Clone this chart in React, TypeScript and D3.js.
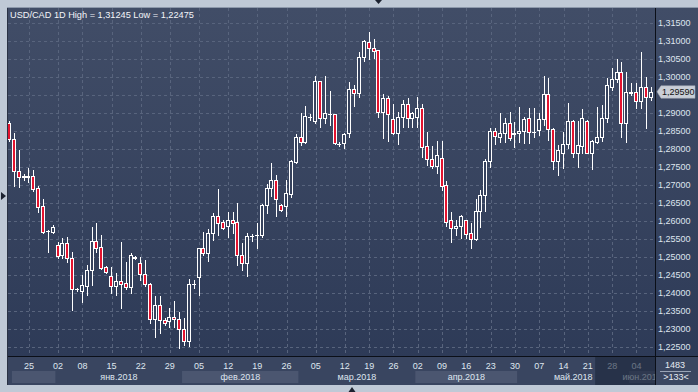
import * as d3 from "d3";

// USD/CAD daily candles, 133 bars visible
const opens = [
  1.2872, 1.2828, 1.274, 1.2725, 1.2723, 1.2725, 1.2692, 1.2642, 1.2572, 1.2569,
  1.2533, 1.2506, 1.2538, 1.2496, 1.241, 1.2406, 1.242, 1.2464, 1.2544, 1.2527,
  1.2471, 1.2447, 1.242, 1.2433, 1.2427, 1.2418, 1.2498, 1.2483, 1.2452, 1.2424,
  1.2327, 1.2367, 1.2325, 1.2323, 1.2333, 1.2328, 1.2299, 1.2268, 1.2424, 1.2445,
  1.2524, 1.2512, 1.2566, 1.2614, 1.2596, 1.2587, 1.2603, 1.2596, 1.2506, 1.2483,
  1.2558, 1.2561, 1.2561, 1.2644, 1.2691, 1.2714, 1.2644, 1.2642, 1.2675, 1.2765,
  1.2833, 1.282, 1.2888, 1.2879, 1.2989, 1.2887, 1.2896, 1.2896, 1.2814, 1.2816,
  1.2844, 1.2966, 1.2955, 1.3055, 1.3096, 1.308, 1.3075, 1.2904, 1.2941, 1.2883,
  1.2845, 1.2888, 1.2924, 1.2885, 1.289, 1.2913, 1.2808, 1.2772, 1.2753, 1.2774,
  1.2699, 1.2602, 1.258, 1.2587, 1.2602, 1.2566, 1.2549, 1.2628, 1.2672, 1.2767,
  1.285, 1.2834, 1.2844, 1.2871, 1.2844, 1.2844, 1.285, 1.2885, 1.2848, 1.2853,
  1.2883, 1.2953, 1.2855, 1.2767, 1.2788, 1.2813, 1.2879, 1.279, 1.2809, 1.2879,
  1.279, 1.282, 1.2833, 1.2885, 1.2973, 1.2994, 1.3015, 1.2873, 1.2957, 1.2958,
  1.2933, 1.2973, 1.2945,
];
const highs = [
  1.2878, 1.2844, 1.2797, 1.2731, 1.2747, 1.2742, 1.2697, 1.266, 1.2575, 1.2589,
  1.2543, 1.2554, 1.2556, 1.2515, 1.2414, 1.245, 1.2478, 1.2584, 1.2594, 1.2561,
  1.2475, 1.2473, 1.2455, 1.2543, 1.2487, 1.251, 1.2503, 1.2501, 1.2492, 1.2429,
  1.2392, 1.2392, 1.233, 1.2358, 1.2378, 1.2346, 1.233, 1.2438, 1.2436, 1.2525,
  1.2569, 1.2578, 1.2623, 1.269, 1.2603, 1.2625, 1.2626, 1.2649, 1.2538, 1.2566,
  1.2564, 1.2594, 1.2647, 1.2703, 1.276, 1.2728, 1.2647, 1.2714, 1.2769, 1.2842,
  1.2899, 1.2919, 1.2896, 1.3003, 1.299, 1.3003, 1.2961, 1.2897, 1.282, 1.2845,
  1.2987, 1.2978, 1.3069, 1.3103, 1.31245, 1.3106, 1.3076, 1.2953, 1.2947, 1.2925,
  1.2902, 1.2936, 1.2941, 1.2904, 1.2944, 1.2925, 1.2846, 1.2808, 1.2822, 1.2822,
  1.2711, 1.2624, 1.2603, 1.2617, 1.2604, 1.2594, 1.2661, 1.2686, 1.2772, 1.2859,
  1.2857, 1.2899, 1.2885, 1.2902, 1.2874, 1.2918, 1.289, 1.2913, 1.2913, 1.2899,
  1.3003, 1.2997, 1.2859, 1.2811, 1.2848, 1.2927, 1.2881, 1.2879, 1.2911, 1.2881,
  1.2825, 1.2916, 1.2922, 1.2997, 1.3024, 1.3049, 1.3043, 1.3015, 1.2983, 1.2983,
  1.3069, 1.3, 1.2971,
];
const lows = [
  1.2822, 1.2697, 1.2695, 1.2714, 1.2709, 1.2684, 1.2626, 1.2566, 1.2515, 1.2566,
  1.2496, 1.2496, 1.2487, 1.2353, 1.2406, 1.2376, 1.2394, 1.2422, 1.2515, 1.2467,
  1.2455, 1.2399, 1.2394, 1.2358, 1.2411, 1.2399, 1.2494, 1.2436, 1.242, 1.2316,
  1.2279, 1.229, 1.2311, 1.2306, 1.2306, 1.22475, 1.2256, 1.2253, 1.2413, 1.2394,
  1.2506, 1.249, 1.2547, 1.2561, 1.2578, 1.2555, 1.2566, 1.2478, 1.2464, 1.2447,
  1.2545, 1.2526, 1.2556, 1.2623, 1.267, 1.2614, 1.2628, 1.2614, 1.2668, 1.276,
  1.2811, 1.2816, 1.2881, 1.2871, 1.2862, 1.2871, 1.2867, 1.2814, 1.2808, 1.2804,
  1.2833, 1.2919, 1.2945, 1.3045, 1.3049, 1.3054, 1.289, 1.283, 1.2823, 1.2841,
  1.2814, 1.2862, 1.2862, 1.2862, 1.2862, 1.2777, 1.2756, 1.2746, 1.2733, 1.2686,
  1.2587, 1.2543, 1.2561, 1.2552, 1.2552, 1.2526, 1.2547, 1.2584, 1.2629, 1.2749,
  1.2813, 1.282, 1.282, 1.2825, 1.2806, 1.282, 1.2816, 1.2816, 1.2834, 1.2839,
  1.2867, 1.2825, 1.2744, 1.2728, 1.2746, 1.2802, 1.2777, 1.2749, 1.2788, 1.2788,
  1.2744, 1.2816, 1.2823, 1.2876, 1.2964, 1.2986, 1.2834, 1.282, 1.295, 1.2913,
  1.2913, 1.2858, 1.2936,
];
const closes = [
  1.2828, 1.274, 1.2723, 1.2722, 1.2724, 1.269, 1.264, 1.2569, 1.2571, 1.2584,
  1.2504, 1.2538, 1.2496, 1.241, 1.2411, 1.2422, 1.2464, 1.2544, 1.2526, 1.247,
  1.2459, 1.242, 1.2433, 1.2426, 1.2418, 1.2506, 1.2499, 1.2452, 1.2424, 1.2327,
  1.2367, 1.2325, 1.2316, 1.2333, 1.2327, 1.2299, 1.2268, 1.2424, 1.2425, 1.2524,
  1.2512, 1.2566, 1.2614, 1.2595, 1.2581, 1.2603, 1.2594, 1.2506, 1.2483, 1.2558,
  1.2559, 1.2562, 1.2644, 1.2691, 1.2714, 1.266, 1.2631, 1.2677, 1.2768, 1.2833,
  1.282, 1.2892, 1.2889, 1.2989, 1.2887, 1.2899, 1.2898, 1.2816, 1.2815, 1.2842,
  1.2966, 1.2955, 1.3055, 1.31, 1.308, 1.3072, 1.2904, 1.2941, 1.2896, 1.2844,
  1.2888, 1.2924, 1.2887, 1.2899, 1.2913, 1.2806, 1.2771, 1.2753, 1.2783, 1.2697,
  1.2598, 1.258, 1.2587, 1.2614, 1.2563, 1.2549, 1.2628, 1.2672, 1.2767, 1.285,
  1.2836, 1.2844, 1.2873, 1.283, 1.2843, 1.285, 1.2883, 1.2846, 1.2847, 1.2883,
  1.2953, 1.2855, 1.2767, 1.2797, 1.2813, 1.2879, 1.279, 1.2811, 1.2885, 1.279,
  1.2822, 1.2833, 1.2885, 1.2978, 1.2994, 1.3015, 1.2873, 1.2958, 1.2956, 1.2933,
  1.2973, 1.2945, 1.2959,
];

// weekly date ticks (bar index -> label)
const dateTickIdx = [4, 10, 15, 21, 27, 33, 39, 45, 51, 57, 63, 69, 74, 79, 84, 89, 94, 99, 104, 109, 114, 119, 124, 129];
const dateTickLabels = ["25", "02", "08", "15", "22", "29", "05", "12", "19", "26", "05", "12", "19", "26", "02", "09", "16", "23", "30", "07", "14", "21", "28", "04"];

// month bands (first bar index of each month)
const monthStartIdx = [1, 10, 36, 60, 84, 105, 128];
const monthLabels = ["", "янв.2018", "фев.2018", "мар.2018", "апр.2018", "май.2018", "июн.2018"];

const lastPrice = 1.2959;
const titleText = "USD/CAD 1D High = 1,31245 Low = 1,22475";

const W = 698;
const H = 392;
const FONT = "'Liberation Sans', Arial, sans-serif";

export default function App() {
  const n = opens.length;
  const plotL = 8;
  const plotR = 655;
  const plotT = 8;
  const plotB = 356;
  const axisB = 385;

  const x = d3.scaleBand<number>().domain(d3.range(n)).range([7.07, 7.07 + n * 4.86]);
  const cx = (i: number) => (x(i) as number) + x.bandwidth() / 2;
  const y = d3.scaleLinear().domain([1.225, 1.315]).range([347, 23]);

  const yTicks = d3.range(0, 19).map((k) => 1.225 + k * 0.005);
  const fmt = (v: number) => d3.format(".5f")(v).replace(".", ",");

  const snap = (v: number) => Math.round(v) + 0.5;

  const candles = d3.range(n).map((i) => {
    const px = Math.round(cx(i) - 0.5);
    const o = opens[i], c = closes[i];
    const up = c >= o;
    const yt = snap(y(Math.max(o, c)));
    const yb = snap(y(Math.min(o, c)));
    const wick = (
      <line key={"w"} x1={px + 0.5} x2={px + 0.5} y1={Math.round(y(highs[i]))} y2={Math.round(y(lows[i])) + 1} stroke="#ffffff" strokeWidth={1} />
    );
    let body;
    if (yb - yt < 1) {
      body = <line key="b" x1={px - 2} x2={px + 2} y1={yt} y2={yt} stroke="#ffffff" strokeWidth={1} />;
    } else {
      body = (
        <rect key="b" x={px - 1.5} y={yt} width={3} height={yb - yt}
          fill={up ? "#36425d" : "#e3132f"} stroke="#ffffff" strokeWidth={1} />
      );
    }
    return <g key={i}>{wick}{body}</g>;
  });

  const bandStart = (k: number) => Math.max(plotL, cx(monthStartIdx[k]) - x.bandwidth() / 2);
  const bandEnd = (k: number) => (k + 1 < monthStartIdx.length ? cx(monthStartIdx[k + 1]) - x.bandwidth() / 2 : plotR);

  const dimStart = cx(121) - x.bandwidth() / 2;
  const py = y(lastPrice);
  // the last-price marker covers the tick label beneath it
  const axisTicks = yTicks.filter((v) => Math.abs(y(v) - py) > 9);

  return (
    <svg width={W} height={H} style={{ position: "absolute", left: 0, top: 0 }} fontFamily={FONT}>
      <defs>
        <linearGradient id="bg" x1="0" y1="0" x2="0" y2="1">
          <stop offset="0" stopColor="#414d67" />
          <stop offset="1" stopColor="#2c3956" />
        </linearGradient>
        <clipPath id="plotClip">
          <rect x={plotL} y={plotT} width={plotR - plotL} height={plotB - plotT} />
        </clipPath>
        <clipPath id="axisClip">
          <rect x={plotL} y={plotB} width={plotR - plotL} height={axisB - plotB} />
        </clipPath>
      </defs>

      {/* frame */}
      <rect x={0} y={0} width={W} height={H} fill="#bfc9d6" />
      <rect x={plotL} y={plotT} width={W - plotL} height={axisB - plotT} fill="url(#bg)" />
      <line x1={7.5} x2={7.5} y1={7} y2={axisB} stroke="#2a3244" />
      <line x1={7} x2={W} y1={7.5} y2={7.5} stroke="#8d99ab" />

      {/* grid */}
      <g clipPath="url(#plotClip)">
        {yTicks.map((v) => (
          <line key={v} x1={plotL} x2={plotR} y1={snap(y(v))} y2={snap(y(v))} stroke="#58647d" strokeDasharray="3,3" />
        ))}
        {dateTickIdx.map((i) => (
          <line key={i} x1={snap(cx(i))} x2={snap(cx(i))} y1={plotT} y2={plotB} stroke="#58647d" strokeDasharray="3,3" />
        ))}
        {candles}
      </g>

      {/* title */}
      <text x={10} y={18} fill="#f3f5f9" fontSize={9.2}>{titleText}</text>

      {/* date axis */}
      <rect x={plotL} y={plotB} width={plotR - plotL} height={axisB - plotB} fill="#394560" />
      <g clipPath="url(#axisClip)">
        {monthStartIdx.map((_, k) => (
          <rect key={k} x={bandStart(k)} y={371} width={bandEnd(k) - bandStart(k)} height={12}
            fill={k % 2 === 0 ? "#4b5670" : "#394560"} />
        ))}
        {monthLabels.map((m, k) => (
          <text key={k} x={(bandStart(k) + bandEnd(k)) / 2} y={379.5} fill="#dfe5ef" fontSize={9} textAnchor="middle">{m}</text>
        ))}
        {dateTickIdx.map((i, k) => (
          <text key={i} x={cx(i)} y={368.5} fill="#dfe5ef" fontSize={9} textAnchor="middle">{dateTickLabels[k]}</text>
        ))}
        <rect x={dimStart} y={plotB} width={plotR - dimStart} height={axisB - plotB} fill="#1d263a" opacity={0.6} />
      </g>

      {/* price axis */}
      {axisTicks.map((v) => (
        <text key={v} x={658} y={y(v) + 3.2} fill="#dfe5ef" fontSize={9}>{fmt(v)}</text>
      ))}
      <path d={`M657,${py} L661,${py - 6} L695,${py - 6} L695,${py + 6.5} L661,${py + 6.5} Z`} fill="#c9ced7" stroke="#9ea6b3" strokeWidth={0.5} />
      <text x={662} y={py + 3.3} fill="#111111" fontSize={9}>{fmt(lastPrice)}</text>

      {/* corner cell */}
      <rect x={656} y={357} width={W - 656} height={axisB - 357} fill="#3b4761" />
      <text x={675} y={367.5} fill="#e6ebf3" fontSize={9} textAnchor="middle">1483</text>
      <line x1={660} x2={691} y1={371.5} y2={371.5} stroke="#9aa4b6" />
      <text x={676} y={380} fill="#e6ebf3" fontSize={9} textAnchor="middle">&gt;133&lt;</text>

      {/* separators */}
      <line x1={655.5} x2={655.5} y1={plotT} y2={axisB} stroke="#0b0f18" />
      <line x1={plotL} x2={W} y1={356.5} y2={356.5} stroke="#0b0f18" />

      {/* navigation markers */}
      <path d="M1,192 L6,196 L1,200 Z" fill="#1c2230" />
      <path d="M375,0 L382,0 L378.5,4 Z" fill="#1c2230" />
      <path d="M348.5,392 L355.5,392 L352,387 Z" fill="#1c2230" />
    </svg>
  );
}
